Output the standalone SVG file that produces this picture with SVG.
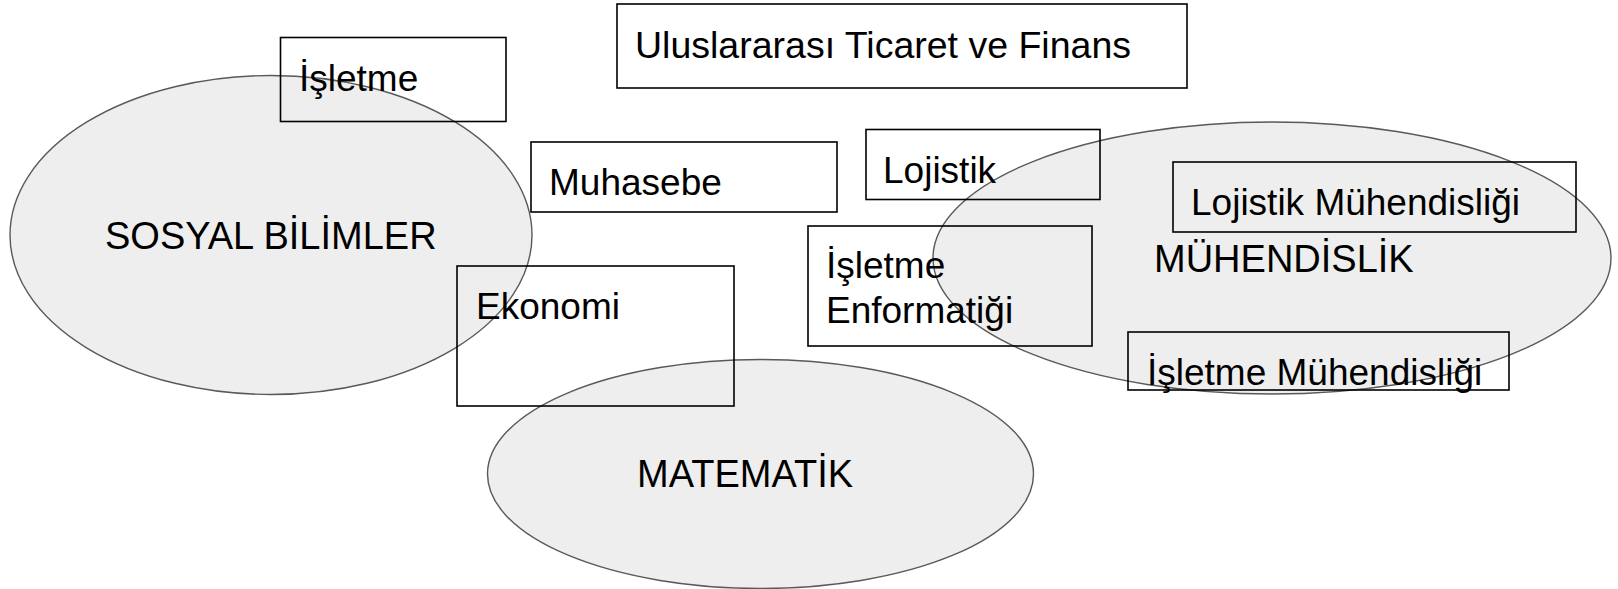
<svg xmlns="http://www.w3.org/2000/svg" width="1618" height="589" viewBox="0 0 1618 589">
<style>
.bg{fill:#ffffff}
.area{fill:#eeeeee;stroke:#595959;stroke-width:1.4}
.box{fill:none;stroke:#000000;stroke-width:1.6}
.t{font-family:"Liberation Sans",Arial,sans-serif;font-size:37px;fill:#000000}
.c{font-size:38px}
</style>
<rect class="bg" x="0" y="0" width="1618" height="589"/>
<g id="sosyal-bilimler">
<ellipse class="area" cx="271" cy="235" rx="261" ry="159.5"/>
<text class="t c" x="105" y="249">SOSYAL BİLİMLER</text>
</g>
<g id="muhendislik">
<ellipse class="area" cx="1272" cy="258" rx="339" ry="136"/>
<text class="t c" x="1154" y="272">MÜHENDİSLİK</text>
</g>
<g id="matematik">
<ellipse class="area" cx="760.5" cy="474" rx="273" ry="114.5"/>
<text class="t c" x="637" y="487">MATEMATİK</text>
</g>
<g id="isletme">
<rect class="box" x="280.5" y="37.5" width="225.5" height="84"/>
<text class="t" x="299" y="91">İşletme</text>
</g>
<g id="uluslararasi">
<rect class="box" x="617" y="4" width="570" height="84"/>
<text class="t" x="635" y="58" style="font-size:37.5px">Uluslararası Ticaret ve Finans</text>
</g>
<g id="muhasebe">
<rect class="box" x="531" y="142" width="306" height="70"/>
<text class="t" x="549" y="195">Muhasebe</text>
</g>
<g id="lojistik">
<rect class="box" x="866" y="129.5" width="234" height="70"/>
<text class="t" x="883" y="183">Lojistik</text>
</g>
<g id="isletme-enformatigi">
<rect class="box" x="808" y="226" width="284" height="120"/>
<text class="t" x="826" y="278">İşletme</text>
<text class="t" x="826" y="323">Enformatiği</text>
</g>
<g id="ekonomi">
<rect class="box" x="457" y="266" width="277" height="140"/>
<text class="t" x="476" y="319">Ekonomi</text>
</g>
<g id="lojistik-muhendisligi">
<rect class="box" x="1173" y="162" width="403" height="70"/>
<text class="t" x="1191" y="215">Lojistik Mühendisliği</text>
</g>
<g id="isletme-muhendisligi">
<rect class="box" x="1128" y="332" width="381" height="58"/>
<text class="t" x="1147" y="385">İşletme Mühendisliği</text>
</g>
<g id="connectors"/>
</svg>
